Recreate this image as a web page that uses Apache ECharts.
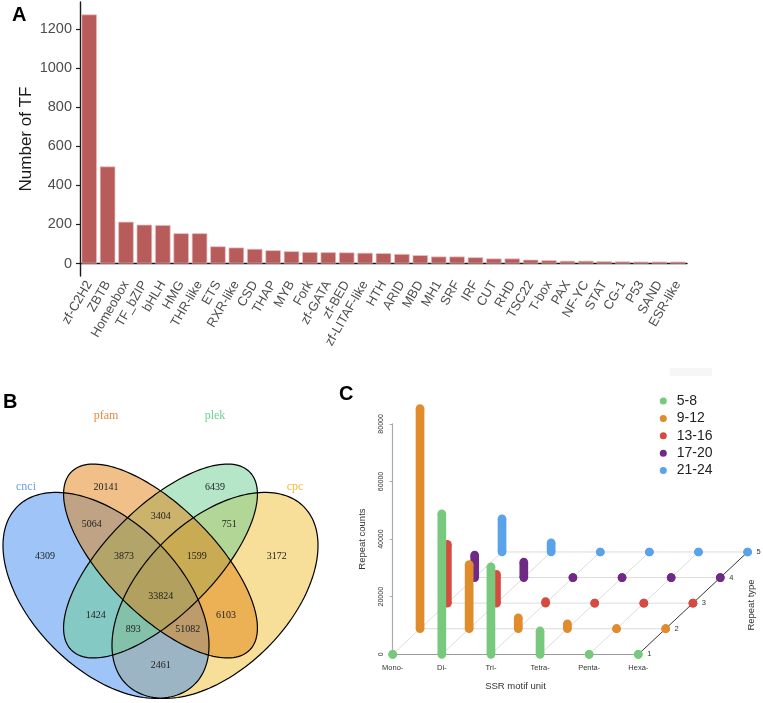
<!DOCTYPE html>
<html><head><meta charset="utf-8">
<script src="https://cdn.jsdelivr.net/npm/echarts@6/dist/echarts.min.js"></script>
<style>html,body{margin:0;padding:0;background:#fff}#c{width:763px;height:703px}</style>
</head><body><div id="c"></div>
<script>
// ---------- Panel A data ----------
const tfFamilies = ['zf-C2H2','ZBTB','Homeobox','TF_bZIP','bHLH','HMG','THR-like','ETS','RXR-like','CSD','THAP','MYB','Fork','zf-GATA','zf-BED','zf-LITAF-like','HTH','ARID','MBD','MH1','SRF','IRF','CUT','RHD','TSC22','T-box','PAX','NF-YC','STAT','CG-1','P53','SAND','ESR-like'];
const tfCounts = [1275,497,214,199,197,155,155,88,82,75,68,63,59,58,57,55,53,49,43,36,36,32,26,26,20,17,14,14,12,11,10,10,10];
const tfTicks = [0,200,400,600,800,1000,1200];

// ---------- Panel B data ----------
const vennSets = ['cnci','pfam','plek','cpc'];
const vennRegions = ['cnci','pfam','plek','cpc','cnci&pfam','pfam&plek','plek&cpc','cnci&pfam&plek','pfam&plek&cpc','cnci&pfam&plek&cpc','cnci&plek','pfam&cpc','cnci&plek&cpc','cnci&pfam&cpc','cnci&cpc'];
const vennCounts = [4309,20141,6439,3172,5064,3404,751,3873,1599,33824,1424,6103,893,51082,2461];

// ---------- Panel C data ----------
const motifUnits = ['Mono-','Di-','Tri-','Tetra-','Penta-','Hexa-'];
const repeatTypes = ['5-8','9-12','13-16','17-20','21-24'];
const repeatTypeTicks = ['1','2','3','4','5'];
const countTicks = [0,20000,40000,60000,80000];
const counts_5_8   = [0,48800,30400,8100,0,0];
const counts_9_12  = [76400,22300,3800,1700,0,0];
const counts_13_16 = [20400,10000,500,0,0,0];
const counts_17_20 = [7800,5400,0,0,0,0];
const counts_21_24 = [11500,3200,0,0,0,0];
const repeatCounts = [counts_5_8,counts_9_12,counts_13_16,counts_17_20,counts_21_24];

// ---------- layout / style ----------
const SANS = 'Liberation Sans, Arial, sans-serif';
const SERIF = 'Liberation Serif, Times New Roman, serif';
const vennShapes = { // local px geometry
  cnci:{cx:106,cy:195.4,a:125.5,b:74,rot:Math.PI/4,fill:'rgba(63,139,241,0.5)',text:'#6d9ff2'},
  pfam:{cx:160.5,cy:161,a:126,b:54,rot:Math.PI/4,fill:'rgba(225,129,17,0.5)',text:'#e8893a'},
  plek:{cx:160.5,cy:161,a:126,b:54,rot:-Math.PI/4,fill:'rgba(107,205,145,0.5)',text:'#72d08e'},
  cpc:{cx:215,cy:195.4,a:125.5,b:74,rot:-Math.PI/4,fill:'rgba(239,191,53,0.5)',text:'#efbe32'}
};
const vennDrawOrder = ['cpc','cnci','plek','pfam'];
const vennSetLabelPos = {cnci:[26,86.7],pfam:[106,16],plek:[215,16],cpc:[295,86.7]};
const vennRegionPos = [[45,156.7],[106,87.3],[215,87.3],[276.7,156.7],[91.7,124],[160.7,116.7],[229.3,124],[124,156.7],[196.7,156.7],[160.7,196.7],[95.7,215],[226,215],[133.3,229.3],[187.7,229.3],[160.7,265]];
const seriesColors = ['#78c97d','#e08b2c','#d64a40','#6e2a85','#5aa3e8'];
const DX = 27.33, DY = 25.58, BW = 8.7;

function ellipsePts(api, e){
  const pts=[]; const ca=Math.cos(e.rot), sa=Math.sin(e.rot);
  for(let k=0;k<=160;k++){
    const t=k/160*2*Math.PI;
    const x=e.cx+e.a*Math.cos(t)*ca - e.b*Math.sin(t)*sa;
    const y=e.cy+e.a*Math.cos(t)*sa + e.b*Math.sin(t)*ca;
    pts.push(api.coord([x,y]));
  }
  return pts;
}

const chart = echarts.init(document.getElementById('c'), null, {renderer:'canvas'});

const barSeriesC = [];
for (let d = repeatTypes.length-1; d >= 0; d--) {
  const depth = d, color = seriesColors[d];
  barSeriesC.push({
    type:'custom', name: repeatTypes[d], xAxisIndex:2, yAxisIndex:2, clip:false,
    itemStyle:{color:color},
    data: repeatCounts[d].map((v,i)=>[i,v]),
    renderItem: function(params, api){
      const m = api.value(0), v = api.value(1);
      const b = api.coord([m,0]), t = api.coord([m,v]);
      const x = b[0] + depth*DX, y0 = b[1] - depth*DY, y1 = t[1] - depth*DY;
      const r = BW/2;
      return {type:'group', children:[
        {type:'rect', shape:{x:x-r,y:y1,width:BW,height:Math.max(0,y0-y1)}, style:{fill:color}},
        {type:'circle', shape:{cx:x,cy:y0,r:r}, style:{fill:color}},
        {type:'circle', shape:{cx:x,cy:y1,r:r}, style:{fill:color}}
      ]};
    }
  });
}

const option = {
  animation:false,
  textStyle:{fontFamily:SANS},
  grid:[
    {left:80, top:2, width:607, height:274},
    {left:0, top:400, width:330, height:303},
    {left:392.7, top:423.9, width:245.6, height:230.4}
  ],
  xAxis:[
    {type:'category', gridIndex:0, data:tfFamilies, boundaryGap:true,
     axisLine:{lineStyle:{color:'#1a1a1a', width:1.4}},
     axisTick:{length:4, alignWithLabel:true, lineStyle:{color:'#1a1a1a', width:1.2}},
     axisLabel:{interval:0, rotate:60, fontSize:13, color:'#4d4d4d', margin:6, fontFamily:SANS}},
    {type:'value', gridIndex:1, min:0, max:330, show:false},
    {type:'category', gridIndex:2, data:motifUnits, boundaryGap:false,
     axisLine:{lineStyle:{color:'#9a9a9a', width:1.2}}, axisTick:{show:false},
     axisLabel:{fontSize:7.5, color:'#333', margin:10, fontFamily:SANS},
     name:'SSR motif unit', nameLocation:'middle', nameGap:27,
     nameTextStyle:{fontSize:9.5, color:'#333', fontFamily:SANS}}
  ],
  yAxis:[
    {type:'value', gridIndex:0, min:-63.75, max:1338.75,
     axisLine:{show:true, lineStyle:{color:'#1a1a1a', width:1.4}},
     axisTick:{show:true, length:4, customValues:tfTicks, lineStyle:{color:'#1a1a1a', width:1.2}},
     axisLabel:{customValues:tfTicks, formatter:function(v){return String(v);}, fontSize:14.5, color:'#4d4d4d', margin:8, fontFamily:SANS},
     splitLine:{show:false},
     name:'Number of TF', nameLocation:'middle', nameGap:45, nameRotate:90, nameMoveOverlap:false,
     nameTextStyle:{fontSize:17, color:'#1a1a1a', fontFamily:SANS}},
    {type:'value', gridIndex:1, min:0, max:303, inverse:true, show:false},
    {type:'value', gridIndex:2, min:0, max:80000, interval:20000,
     axisLine:{show:true, lineStyle:{color:'#aaaaaa', width:1.2}},
     axisTick:{show:true, length:3, lineStyle:{color:'#aaaaaa'}},
     axisLabel:{rotate:90, formatter:function(v){return String(v);}, fontSize:7, color:'#333', margin:8, fontFamily:SANS},
     splitLine:{show:false},
     name:'Repeat counts', nameLocation:'middle', nameGap:25, nameRotate:90,
     nameTextStyle:{fontSize:9.5, color:'#333', fontFamily:SANS}}
  ],
  legend:{
    data:repeatTypes, orient:'vertical', left:654.8, top:389, icon:'circle',
    itemWidth:17, itemHeight:7, itemGap:3.4,
    textStyle:{fontSize:14, color:'#222', lineHeight:14, fontFamily:SANS}
  },
  graphic:[
    {type:'text', left:12, top:5, style:{text:'A', font:'bold 20px '+SANS, fill:'#000'}},
    {type:'text', left:3, top:392, style:{text:'B', font:'bold 20px '+SANS, fill:'#000'}},
    {type:'text', left:339, top:384, style:{text:'C', font:'bold 20px '+SANS, fill:'#000'}},
    {type:'rect', shape:{x:670,y:368,width:42,height:8}, style:{fill:'#f6f6f6'}},
    {type:'text', x:751.7, y:605, rotation:Math.PI/2, style:{text:'Repeat type', font:'9.5px '+SANS, fill:'#333', textAlign:'center', textVerticalAlign:'middle'}}
  ],
  series:[
    {type:'bar', xAxisIndex:0, yAxisIndex:0, data:tfCounts, barWidth:15.5,
     itemStyle:{color:'#b75b5b', borderColor:'#ecc3c3', borderWidth:0.7}},
    // Venn fills
    {type:'custom', xAxisIndex:1, yAxisIndex:1, clip:false, silent:true,
     data:vennDrawOrder.map((s,i)=>[i]),
     renderItem:function(params, api){
       const e = vennShapes[vennDrawOrder[params.dataIndex]];
       return {type:'polygon', shape:{points:ellipsePts(api,e)}, style:{fill:e.fill, stroke:null}};
     }},
    // Venn outlines
    {type:'custom', xAxisIndex:1, yAxisIndex:1, clip:false, silent:true,
     data:vennSets.map((s,i)=>[i]),
     renderItem:function(params, api){
       const e = vennShapes[vennSets[params.dataIndex]];
       return {type:'polygon', shape:{points:ellipsePts(api,e)}, style:{fill:null, stroke:'#000', lineWidth:1.2}};
     }},
    // Venn set names
    {type:'custom', xAxisIndex:1, yAxisIndex:1, clip:false, silent:true,
     data:vennSets.map((s,i)=>[i]),
     renderItem:function(params, api){
       const s = vennSets[params.dataIndex]; const p = api.coord(vennSetLabelPos[s]);
       return {type:'text', x:p[0], y:p[1], style:{text:s, font:'12px '+SERIF, fill:vennShapes[s].text, textAlign:'center', textVerticalAlign:'middle'}};
     }},
    // Venn region counts
    {type:'custom', xAxisIndex:1, yAxisIndex:1, clip:false, silent:true,
     data:vennCounts.map((v,i)=>[i,v]),
     renderItem:function(params, api){
       const i = params.dataIndex; const p = api.coord(vennRegionPos[i]);
       return {type:'text', x:p[0], y:p[1], style:{text:String(vennCounts[i]), font:'10px '+SERIF, fill:'#222', textAlign:'center', textVerticalAlign:'middle'}};
     }},
    // C: row lines + depth tick labels
    {type:'custom', xAxisIndex:2, yAxisIndex:2, clip:false, silent:true,
     data:repeatTypeTicks.map((t,i)=>[i]),
     renderItem:function(params, api){
       const d = params.dataIndex;
       const a = api.coord([0,0]), b = api.coord([motifUnits.length-1,0]);
       const ch = [];
       if (d>0) ch.push({type:'line', shape:{x1:a[0]+d*DX,y1:a[1]-d*DY,x2:b[0]+d*DX,y2:b[1]-d*DY}, style:{stroke:'#dcdcdc', lineWidth:1}});
       ch.push({type:'text', x:b[0]+d*DX+11, y:b[1]-d*DY, style:{text:repeatTypeTicks[d], font:'7.5px '+SANS, fill:'#333', textAlign:'center', textVerticalAlign:'middle'}});
       return {type:'group', children:ch};
     }},
    // C: depth lines
    {type:'custom', xAxisIndex:2, yAxisIndex:2, clip:false, silent:true,
     data:motifUnits.map((m,i)=>[i]),
     renderItem:function(params, api){
       const i = params.dataIndex; const a = api.coord([i,0]); const n = repeatTypes.length-1;
       const last = i===motifUnits.length-1;
       return {type:'line', shape:{x1:a[0],y1:a[1],x2:a[0]+n*DX,y2:a[1]-n*DY}, style:{stroke:last?'#333':'#dcdcdc', lineWidth:1}};
     }}
  ].concat(barSeriesC)
};
chart.setOption(option);
</script></body></html>
